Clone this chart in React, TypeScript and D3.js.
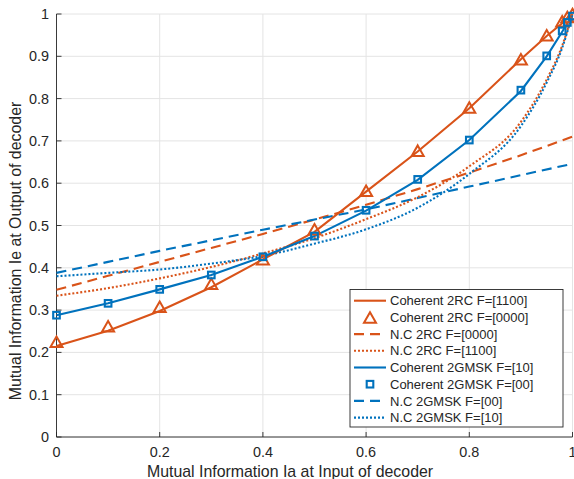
import React from "react";
import * as d3 from "d3";

const xTicks = [0, 0.2, 0.4, 0.6, 0.8, 1];
const yTicks = [0, 0.1, 0.2, 0.3, 0.4, 0.5, 0.6, 0.7, 0.8, 0.9, 1];

const xCoh = [0, 0.1, 0.2, 0.3, 0.4, 0.5, 0.6, 0.7, 0.8, 0.9, 0.95, 0.98, 0.99, 1];
const coh2RC1100 = [0.215, 0.251, 0.298, 0.354, 0.42, 0.485, 0.58, 0.675, 0.777, 0.893, 0.948, 0.978, 0.99, 1.0];
const coh2RC0000 = [0.225, 0.262, 0.308, 0.362, 0.42, 0.491, 0.582, 0.677, 0.779, 0.893, 0.95, 0.983, 0.993, 1.0];
const cohGM10 = [0.288, 0.316, 0.349, 0.383, 0.426, 0.475, 0.535, 0.608, 0.702, 0.818, 0.9, 0.958, 0.978, 0.995];
const cohGM00 = [0.288, 0.316, 0.349, 0.383, 0.426, 0.475, 0.536, 0.609, 0.702, 0.82, 0.901, 0.96, 0.98, 0.995];

const xDash = [0, 0.1, 0.2, 0.3, 0.4, 0.5, 0.6, 0.7, 0.8, 0.9, 1];
const nc2RC0000 = [0.348, 0.381, 0.414, 0.447, 0.48, 0.514, 0.549, 0.586, 0.625, 0.666, 0.71];
const ncGM00 = [0.388, 0.414, 0.44, 0.465, 0.49, 0.514, 0.538, 0.565, 0.592, 0.619, 0.646];

const xDot = [0, 0.1, 0.2, 0.3, 0.4, 0.5, 0.6, 0.7, 0.8, 0.9, 0.95, 0.98, 1];
const nc2RC1100 = [0.334, 0.352, 0.375, 0.402, 0.434, 0.47, 0.515, 0.567, 0.64, 0.745, 0.845, 0.925, 1.0];
const ncGM10 = [0.38, 0.388, 0.396, 0.41, 0.428, 0.457, 0.491, 0.542, 0.622, 0.735, 0.838, 0.92, 1.0];

const legendLabels = [
  "Coherent 2RC F=[1100]",
  "Coherent 2RC F=[0000]",
  "N.C 2RC F=[0000]",
  "N.C 2RC F=[1100]",
  "Coherent 2GMSK F=[10]",
  "Coherent 2GMSK F=[00]",
  "N.C 2GMSK F=[00]",
  "N.C 2GMSK F=[10]",
];

const ORANGE = "#D95319";
const BLUE = "#0072BD";
const AX = "#262626";
const FONT = "'Liberation Sans', Arial, Helvetica, sans-serif";

const W = 574;
const H = 479;
const L = 56.5;
const R = 572.5;
const T = 14;
const B = 437;

export default function App() {
  const x = d3.scaleLinear().domain([0, 1]).range([L, R]);
  const y = d3.scaleLinear().domain([0, 1]).range([B, T]);

  const mk = (xs: number[], ys: number[], smooth = false) => {
    const g = d3
      .line<number>()
      .x((_, i) => x(xs[i]))
      .y((d) => y(d));
    if (smooth) g.curve(d3.curveMonotoneX);
    return g(ys) || "";
  };

  const tri = (cx: number, cy: number, s = 12, h = 10.5) =>
    `M${cx},${cy - h / 2}L${cx + s / 2},${cy + h / 2}L${cx - s / 2},${cy + h / 2}Z`;

  const SQ = 6.6;

  const series = [
    { type: "line", color: ORANGE, dash: undefined as string | undefined },
    { type: "tri", color: ORANGE },
    { type: "line", color: ORANGE, dash: "10,6" },
    { type: "line", color: ORANGE, dash: "2,2" },
    { type: "line", color: BLUE, dash: undefined },
    { type: "sq", color: BLUE },
    { type: "line", color: BLUE, dash: "10,6" },
    { type: "line", color: BLUE, dash: "2,2" },
  ];

  const legX = 350;
  const legY = 289.5;
  const legW = 213;
  const legH = 137.5;
  const rowH = 16.7;
  const row0 = 300.7;

  return (
    <svg
      width={W}
      height={H}
      style={{ position: "absolute", left: 0, top: 0, background: "#fff" }}
      fontFamily={FONT}
    >
      <rect x={0} y={0} width={W} height={H} fill="#fff" />
      {xTicks.map((t) => (
        <line key={"gx" + t} x1={x(t)} x2={x(t)} y1={T} y2={B} stroke="#e4e4e4" strokeWidth={1} />
      ))}
      {yTicks.map((t) => (
        <line key={"gy" + t} x1={L} x2={R} y1={y(t)} y2={y(t)} stroke="#e4e4e4" strokeWidth={1} />
      ))}
      <line x1={L} x2={L} y1={T} y2={B} stroke={AX} strokeWidth={0.9} />
      <line x1={L} x2={R} y1={B} y2={B} stroke={AX} strokeWidth={0.9} />
      {xTicks.map((t) => (
        <g key={"tx" + t}>
          <line x1={x(t)} x2={x(t)} y1={B} y2={B - 5} stroke={AX} strokeWidth={0.9} />
          <text x={x(t)} y={457} textAnchor="middle" fontSize={14.4} fill={AX}>
            {String(t)}
          </text>
        </g>
      ))}
      {yTicks.map((t) => (
        <g key={"ty" + t}>
          <line x1={L} x2={L + 5} y1={y(t)} y2={y(t)} stroke={AX} strokeWidth={0.9} />
          <text x={49} y={y(t) + 5} textAnchor="end" fontSize={14.4} fill={AX}>
            {String(t)}
          </text>
        </g>
      ))}
      <text x={290} y={477} textAnchor="middle" fontSize={15.9} fill={AX}>
        Mutual Information Ia at Input of decoder
      </text>
      <text
        transform={`translate(21,251) rotate(-90)`}
        textAnchor="middle"
        fontSize={15.9}
        fill={AX}
      >
        Mutual Information Ie at Output of decoder
      </text>

      <path d={mk(xDash, nc2RC0000)} fill="none" stroke={ORANGE} strokeWidth={2.1} strokeDasharray="10,6" />
      <path d={mk(xDash, ncGM00)} fill="none" stroke={BLUE} strokeWidth={2.1} strokeDasharray="10,6" />
      <path d={mk(xDot, nc2RC1100, true)} fill="none" stroke={ORANGE} strokeWidth={2.1} strokeDasharray="2,2" />
      <path d={mk(xDot, ncGM10, true)} fill="none" stroke={BLUE} strokeWidth={2.1} strokeDasharray="2,2" />
      <path d={mk(xCoh, coh2RC1100)} fill="none" stroke={ORANGE} strokeWidth={2.1} />
      <path d={mk(xCoh, cohGM10)} fill="none" stroke={BLUE} strokeWidth={2.1} />
      {coh2RC0000.map((v, i) => (
        <path key={"tr" + i} d={tri(x(xCoh[i]), y(v))} fill="none" stroke={ORANGE} strokeWidth={2} />
      ))}
      {cohGM00.map((v, i) => (
        <rect key={"sq" + i} x={x(xCoh[i]) - SQ / 2} y={y(v) - SQ / 2} width={SQ} height={SQ} fill="none" stroke={BLUE} strokeWidth={2.1} />
      ))}

      <rect x={legX} y={legY} width={legW} height={legH} fill="#fff" stroke={AX} strokeWidth={0.9} />
      {legendLabels.map((lab, i) => {
        const cy = row0 + i * rowH;
        const s = series[i];
        return (
          <g key={"lg" + i}>
            {s.type === "line" && (
              <line x1={354} x2={386} y1={cy} y2={cy} stroke={s.color} strokeWidth={2.1} strokeDasharray={s.dash} />
            )}
            {s.type === "tri" && <path d={tri(370, cy)} fill="none" stroke={s.color} strokeWidth={2} />}
            {s.type === "sq" && (
              <rect x={370 - SQ / 2} y={cy - SQ / 2} width={SQ} height={SQ} fill="none" stroke={s.color} strokeWidth={2.1} />
            )}
            <text x={390} y={cy + 4.6} fontSize={13} fill={AX}>
              {lab}
            </text>
          </g>
        );
      })}
    </svg>
  );
}
